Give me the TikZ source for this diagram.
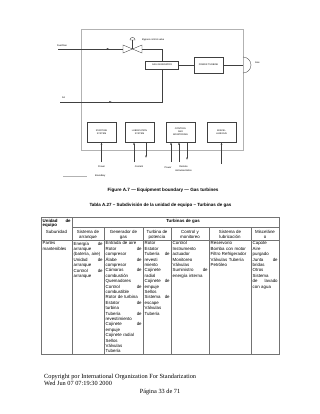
\documentclass[tikz,border=0pt]{standalone}
\usepackage{fontspec}
\setmainfont{Liberation Sans}
\newfontfamily\footfont{Liberation Serif}
\usetikzlibrary{arrows.meta,calc,decorations.markings}

\begin{document}
\begin{tikzpicture}[x=1pt,y=-1pt,>={Latex[length=2.4pt,width=1.7pt]},line width=0.35pt,
  unit/.style={draw=black!75,fill=white,inner sep=0pt,align=center,font=\fontsize{2.3}{2.9}\selectfont},
  lbl/.style={inner sep=0pt,align=center,font=\fontsize{2.4}{3.6}\selectfont},
  boundary/.style={draw=black!30,line width=0.45pt},
  pipe/.style={draw=black!75},
  flowarrow/.style={postaction={decorate},decoration={markings,mark=at position #1 with {\arrow{Latex[length=2.6pt,width=2pt]}}}},
  cell/.style={anchor=north west,inner sep=0pt,align=left,font=\fontsize{4.4}{5.4}\selectfont},
  headcell/.style={anchor=north,inner sep=0pt,align=center,font=\fontsize{4.4}{4.6}\selectfont},
  grid/.style={draw=black!55,line width=0.5pt}]

\fill[white] (0,0) rectangle (320,414);
\useasboundingbox (0,0) rectangle (320,414);

% equipment boundary
\draw[boundary] (81,29) rectangle (243,150);

% gas path
\node[unit,minimum width=33pt,minimum height=8pt] (gasgen) at (162,65) {GAS GENERATOR};
\node[unit,minimum width=29pt,minimum height=16pt] (powturb) at (208.5,65) {POWER TURBINE};
\coordinate (exhaust) at (243,65);
\draw[pipe] (gasgen) -- (powturb);
\draw[pipe] (powturb) -- (exhaust);
\draw[pipe] (243,57) arc[start angle=-90,end angle=90,radius=8];
\node[lbl,anchor=west] (gaslbl) at (255,63) {Gas};

% fuel line and valve
\coordinate (valve) at (132.5,49);
\coordinate (fuelin) at (58,49);
\coordinate (vin) at (123,49);
\coordinate (vout) at (142,49);
\begin{scope}[shift={(valve)}]
  \draw[pipe] (-9.5,-4) -- (-9.5,4) -- (9.5,-4) -- (9.5,4) -- cycle;
  \draw[pipe] (0,0) -- (0,-9);
  \draw[pipe] (-2.6,-9) -- (2.6,-9) arc[start angle=0,end angle=-180,radius=2.6];
\end{scope}
\node[lbl,anchor=west] (valvelbl) at (142,40) {Bypass control valve};
\node[lbl,anchor=west] (fuellbl) at (57,45.3) {Fuel/Gas};
\draw[pipe,flowarrow=0.79] (fuelin) -- (vin);
\draw[pipe] (vout) -| (gasgen.north);

% air line
\coordinate (airin) at (60,102);
\node[lbl,anchor=west] (airlbl) at (62,98) {Air};
\draw[pipe,flowarrow=0.385] (airin) -| (gasgen.south);

% subunits
\node[unit,minimum width=29pt,minimum height=20pt] (start) at (101.5,132) {STARTING\\SYSTEM};
\node[unit,minimum width=29pt,minimum height=20pt] (lube) at (139.5,132) {LUBRICATION\\SYSTEM};
\node[unit,minimum width=29pt,minimum height=20pt] (ctrl) at (180.5,132) {CONTROL\\AND\\MONITORING};
\node[unit,minimum width=29pt,minimum height=20pt] (misc) at (221.5,132) {MISCEL\\LANEOUS};

% inputs and outputs
\coordinate (startpw) at (101.5,162);
\coordinate (lubecl) at (134,162);
\coordinate (lubeout) at (146,158);
\coordinate (ctrlpw) at (171,162);
\coordinate (ctrlri) at (179,162);
\coordinate (ctrlout) at (187,160);
\coordinate (miscin) at (221.5,164);
\draw[pipe,->] (startpw) -- (startpw |- start.south);
\draw[pipe,->] (lubecl) -- (lubecl |- lube.south);
\draw[pipe,->] (lubeout |- lube.south) -- (lubeout);
\draw[pipe,->] (ctrlpw) -- (ctrlpw |- ctrl.south);
\draw[pipe,->] (ctrlri) -- (ctrlri |- ctrl.south);
\draw[pipe,->] (ctrlout |- ctrl.south) -- (ctrlout);
\draw[pipe,->] (miscin) -- (miscin |- misc.south);
\node[lbl] (pwrA) at (101.5,167) {Power};
\node[lbl] (coolant) at (139,167) {Coolant};
\node[lbl] (pwrB) at (168,167.5) {Power};
\node[lbl,anchor=north] (remote) at (183.5,166) {Remote\\instrumentation};

% legend
\coordinate (bndA) at (63,176);
\coordinate (bndB) at (87,176);
\draw[boundary] (bndA) -- (bndB);
\node[lbl,anchor=west] (bndlbl) at (95,176) {Boundary};

% captions
\node[inner sep=0pt,font=\fontsize{4.6}{5}\selectfont\bfseries] (figcap) at (163,190)
  {Figure A.7 --- Equipment boundary --- Gas turbines};
\node[inner sep=0pt,font=\fontsize{4.5}{5}\selectfont\bfseries] (tabcap) at (160.5,205)
  {Tabla A.27 -- Subdivisión de la unidad de equipo -- Turbinas de gas};

% table grid
\draw[grid] (41,217.7) rectangle (279,354);
\draw[grid] (72,227.7) -- (279,227.7);
\draw[grid] (41,240) -- (279,240);
\draw[grid] (72,217.7) -- (72,354);
\foreach \x in {104,143,171,209,251}
  \draw[grid] (\x,227.7) -- (\x,354);

% header rows
\node[cell,text width=28pt,font=\fontsize{4.4}{4.4}\selectfont\bfseries] (unidad) at (42.5,218.8) {Unidad\hfill de\\equipo};
\node[inner sep=0pt,font=\fontsize{4.4}{5}\selectfont\bfseries] (turbinas) at (183,221.5) {Turbinas de gas};
\node[headcell] (h1) at (56.5,230.3) {Subunidad};
\node[headcell] (h2) at (88,230.3) {Sistema de\\arranque};
\node[headcell] (h3) at (123.5,230.3) {Generador de\\gas};
\node[headcell] (h4) at (157,230.3) {Turbina de\\potencia};
\node[headcell] (h5) at (190,230.3) {Control y\\monitoreo};
\node[headcell] (h6) at (230,230.3) {Sistema de\\lubricación};
\node[headcell] (h7) at (265,230.3) {Misceláne\\o};

% body row
\node[cell,text width=28pt] (b1) at (42.5,241.6) {Partes\\mantenibles};
\node[cell,text width=29pt] (b2) at (73.5,241.6) {Energía\hfill de\\arranque\\(batería, aire)\\Unidad\hfill de\\arranque\\Control\hfill de\\arranque};
\node[cell,text width=36pt] (b3) at (105.5,241.6) {Entrada de aire\\Rotor\hfill de\\compresor\\Álabe\hfill de\\compresor\\Cámaras\hfill de\\combustión\\Quemadores\\Control\hfill de\\combustible\\Rotor de turbina\\Estator\hfill de\\turbina\\Tubería\hfill de\\revestimiento\\Cojinete\hfill de\\empuje\\Cojinete radial\\Sellos\\Válvulas\\Tubería};
\node[cell,text width=25pt] (b4) at (144.5,241.6) {Rotor\\Estator\\Tubería\hfill de\\revesti\\miento\\Cojinete\\radial\\Cojinete\hfill de\\empuje\\Sellos\\Sistema\hfill de\\escape\\Válvulas\\Tubería};
\node[cell,text width=35pt] (b5) at (172.5,241.6) {Control\\Instrumento\\actuador\\Monitoreo\\Válvulas\\Suministro\hfill de\\energía interna};
\node[cell,text width=39pt] (b6) at (210.5,241.6) {Reservorio\\Bomba con motor\\Filtro Refrigerador\\Válvulas Tubería\\Petróleo};
\node[cell,text width=25pt] (b7) at (252.5,241.6) {Capote\\Aire\\purgado\\Junta\hfill de\\bridas\\Otros\\Sistema\\de\hfill lavado\\con agua};

% page footer
\node[inner sep=0pt,anchor=west,font=\footfont\fontsize{6.3}{6.5}\selectfont] (copy) at (44,377) {Copyright por International Organization For Standarization};
\node[inner sep=0pt,anchor=west,font=\footfont\fontsize{6.3}{6.5}\selectfont] (stamp) at (44,383.5) {Wed Jun 07 07:19:30 2000};
\node[inner sep=0pt,font=\footfont\fontsize{6.3}{6.5}\selectfont] (page) at (160,392) {Página 33 de 71};
\end{tikzpicture}
\end{document}
